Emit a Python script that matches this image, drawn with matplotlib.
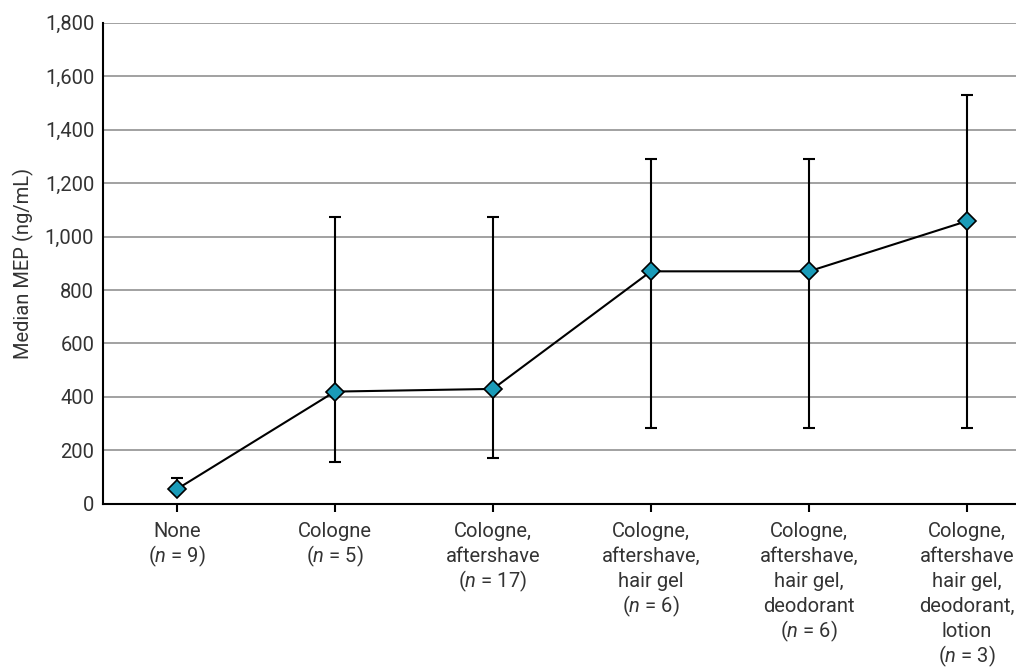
import matplotlib
matplotlib.use('Agg')
import matplotlib.pyplot as plt
from matplotlib.ticker import FuncFormatter

## data
categories = [
    'None',
    'Cologne',
    'Cologne,\naftershave',
    'Cologne,\naftershave,\nhair gel',
    'Cologne,\naftershave,\nhair gel,\ndeodorant',
    'Cologne,\naftershave\nhair gel,\ndeodorant,\nlotion',
]
n_counts = [9, 5, 17, 6, 6, 3]
median_mep = [55, 420, 430, 870, 870, 1058]
upper_mep = [95, 1075, 1075, 1290, 1290, 1530]
lower_mep = [55, 155, 170, 285, 285, 285]

plt.rcParams['font.family'] = ['Roboto', 'DejaVu Sans']
plt.rcParams['mathtext.fontset'] = 'custom'
plt.rcParams['mathtext.it'] = 'Roboto:italic'
plt.rcParams['mathtext.rm'] = 'Roboto'

text_color = '#333333'
fsize = 14.5
line_h = 18.0      # points between label lines
first_base = 24.0  # points from axis to first baseline

fig = plt.figure(figsize=(10.16, 6.7), dpi=100)
ax = fig.add_axes([0.101, 0.248, 0.899, 0.718])

x = list(range(len(categories)))
yerr = [[m - lo for m, lo in zip(median_mep, lower_mep)],
        [hi - m for m, hi in zip(median_mep, upper_mep)]]

ax.errorbar(x, median_mep, yerr=yerr, fmt='none', ecolor='black',
            elinewidth=1.5, capsize=4.5, capthick=1.5, zorder=3)
ax.plot(x, median_mep, color='black', lw=1.5, marker='D', markersize=9,
        markerfacecolor='#1a9bb8', markeredgecolor='black', markeredgewidth=1.2,
        zorder=4)

ax.set_ylim(0, 1800)
ax.set_xlim(-0.47, 5.31)
ax.set_yticks(range(0, 1801, 200))
ax.yaxis.set_major_formatter(FuncFormatter(lambda v, p: f'{int(v):,}'))
ax.yaxis.grid(True, color='#9a9a9a', lw=1.3)
ax.set_axisbelow(True)

ax.set_xticks(x)
ax.set_xticklabels([])
ax.tick_params(axis='x', length=6, width=1.5)
ax.tick_params(axis='y', length=0, labelsize=fsize, labelcolor=text_color, pad=6)
ax.set_ylabel('Median MEP (ng/mL)', fontsize=fsize, color=text_color, labelpad=8)

# category labels drawn line by line, last line "(n = ..)" with italic n
for xi, cat, n in zip(x, categories, n_counts):
    lines = cat.split('\n') + [f'($\\it{{n}}$ = {n})']
    for j, txt in enumerate(lines):
        ax.annotate(txt, xy=(xi, 0), xycoords=('data', 'axes fraction'),
                    xytext=(0, -first_base - j * line_h), textcoords='offset points',
                    ha='center', va='baseline', fontsize=fsize, color=text_color,
                    annotation_clip=False)

for side in ['top', 'right']:
    ax.spines[side].set_visible(False)
for side in ['left', 'bottom']:
    ax.spines[side].set_linewidth(1.5)
    ax.spines[side].set_color('black')

fig.savefig('out.png', dpi=100)
